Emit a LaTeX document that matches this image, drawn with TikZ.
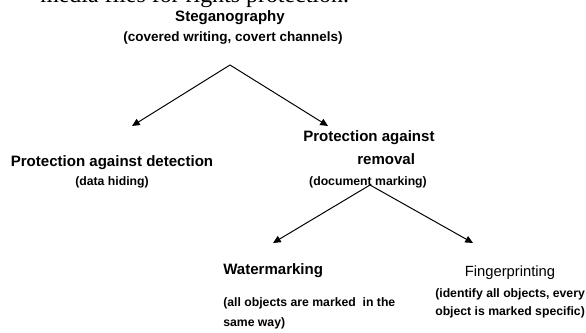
\documentclass[tikz,border=0pt]{standalone}
\usepackage{fontspec}
\setmainfont{Liberation Sans}
\newfontfamily\pageserif{Liberation Serif}
\usetikzlibrary{arrows.meta}

\begin{document}
\begin{tikzpicture}[x=0.025cm,y=-0.025cm,
    headtext/.style={inner sep=0pt,font=\fontsize{10.7}{12}\selectfont\bfseries},
    smalltext/.style={inner sep=0pt,font=\fontsize{8.7}{10}\selectfont\bfseries},
    arrowline/.style={line width=0.7pt,-{Triangle[length=5.5pt,width=5pt]}}]
  \clip (0,0) rectangle (586,333);

  % cut-off line of the page above
  \node[inner sep=0pt,anchor=base west,font=\pageserif\fontsize{17}{20}\selectfont]
    (pagetext) at (40,2.5) {media files for rights protection.};

  % root
  \node[headtext] (steg) at (230,18) {Steganography};
  \node[smalltext,font=\fontsize{9.6}{11}\selectfont\bfseries] (stegsub) at (233,38)
    {(covered writing, covert channels)};

  % first level
  \node[headtext] (detect) at (112,163) {Protection against detection};
  \node[smalltext] (detectsub) at (112,182) {(data hiding)};
  \node[headtext,anchor=west] (removal) at (303,138) {Protection against};
  \node[headtext,anchor=west] (removaltwo) at (357,159) {removal};
  \node[smalltext] (removalsub) at (368,182) {(document marking)};

  % second level
  \node[headtext,anchor=west] (water) at (223,271) {Watermarking};
  \node[smalltext,anchor=west] (watersub) at (223,303) {(all objects are marked\ \ in the};
  \node[smalltext,anchor=west] (watersubtwo) at (223,323) {same way)};
  \node[headtext,font=\fontsize{10.5}{12}\selectfont] (finger) at (510,273) {Fingerprinting};
  \node[smalltext,anchor=west] (fingersub) at (435,294) {(identify all objects, every};
  \node[smalltext,anchor=west] (fingersubtwo) at (435,312) {object is marked specific)};

  % arrows
  \coordinate (topfork) at (230,65);
  \coordinate (detecttip) at (132,126);
  \coordinate (removaltip) at (328,126);
  \coordinate (lowfork) at (370,185);
  \coordinate (watertip) at (273,243);
  \coordinate (fingertip) at (473,243);
  \draw[arrowline] (topfork) -- (detecttip);
  \draw[arrowline] (topfork) -- (removaltip);
  \draw[arrowline] (lowfork) -- (watertip);
  \draw[arrowline] (lowfork) -- (fingertip);
\end{tikzpicture}
\end{document}
